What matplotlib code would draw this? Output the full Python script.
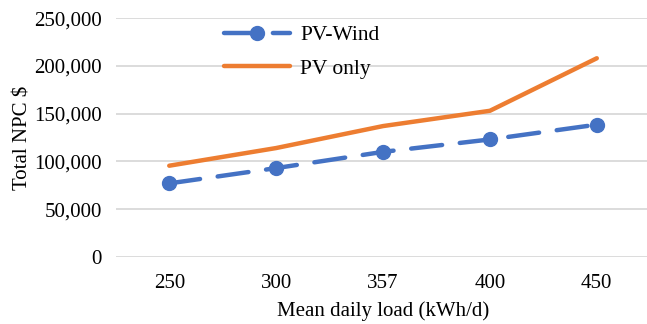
import numpy as np
import matplotlib.pyplot as plt

plt.rcParams['font.family'] = ['Liberation Serif', 'DejaVu Serif']

loads = ['250', '300', '357', '400', '450']
pv_wind = [77000, 93000, 110000, 123000, 138500]
pv_only = [95500, 114000, 137000, 153000, 208000]

BLUE = '#4472c4'
ORANGE = '#ed7d31'
GRID = '#d9d9d9'


def main():
    fig = plt.figure(figsize=(6.47, 3.24), dpi=100)
    ax = fig.add_axes([0.179, 0.207, 0.826, 0.737])
    x = np.arange(len(loads))

    ax.plot(x, pv_wind, color=BLUE, lw=3.2, ls=(0, (7, 4)), marker='o',
            markersize=10, label='PV-Wind', solid_capstyle='round',
            dash_capstyle='round', zorder=3)
    ax.plot(x, pv_only, color=ORANGE, lw=3.2, label='PV only',
            solid_capstyle='round', zorder=3)

    ax.set_xlim(-0.5, 4.5)
    ax.set_ylim(0, 250000)
    ax.set_yticks(np.arange(0, 250001, 50000))
    ax.set_yticklabels([f'{v:,}' for v in range(0, 250001, 50000)])
    ax.set_xticks(x)
    ax.set_xticklabels(loads)
    ax.tick_params(length=0, labelsize=15, pad=10)
    ax.tick_params(axis='x', pad=12)
    ax.grid(axis='y', color=GRID, lw=1.3)
    ax.set_axisbelow(True)
    for s in ax.spines.values():
        s.set_visible(False)

    ax.set_ylabel('Total NPC $', fontsize=15, labelpad=1)
    ax.set_xlabel('Mean daily load (kWh/d)', fontsize=15, labelpad=6)

    ax.legend(loc='upper left', bbox_to_anchor=(0.329, 0.955),
              bbox_transform=fig.transFigure, frameon=False, fontsize=15.5,
              handlelength=3.1, handletextpad=0.45, labelspacing=0.62,
              borderpad=0)

    fig.savefig('out.png', dpi=100)


if __name__ == '__main__':
    main()
